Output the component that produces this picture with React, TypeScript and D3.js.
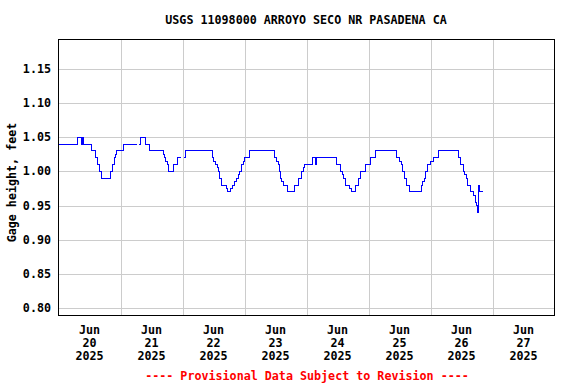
import React from 'react';
import * as d3 from 'd3';

// hours after Jun 20 2025 00:00, gage height (ft); null = gap in record
const hours = [
  0, 7.5, 8.75, 9.25, 9.5, 12.75, 14.5, 15.25, 16, 16.75, 20, 20.75, 21.5, 22, 22.5,
  25, 30.5, 30.6, 31.25, 31.75, 33.75, 35.25, 40.5, 41, 41.5, 42, 42.75, 44.5, 46.25,
  47.5, 47.6, 48.5, 49.25, 59.5, 60, 60.75, 61.5, 62, 62.5, 63, 65, 65.25, 66.5, 67.25,
  68.25, 69, 69.5, 70.25, 70.75, 71.5, 72, 74, 83.75, 84.25, 85, 85.5, 86, 86.5, 87.25,
  88.5, 91.5, 93, 94, 95, 95.25, 98.25, 99.5, 100, 107.5, 109, 109.75, 110.5, 111,
  112.75, 113.25, 115, 116, 117, 118.75, 120.75, 122.75, 131, 132, 132.75, 133.25, 134,
  134.75, 136, 140.5, 141, 141.75, 142.25, 143, 144, 145, 147.25, 155, 155.5, 156.75,
  157.25, 158, 158.5, 159.5, 160.75, 161.5, 161.75, 162.25, 162.75, 163, 164.5,
];
const heights: (number | null)[] = [
  1.04, 1.05, 1.04, 1.05, 1.04, 1.03, 1.02, 1.01, 1.0, 0.99, 1.0, 1.01, 1.02, 1.025, 1.03,
  1.04, 1.04, null, 1.04, 1.05, 1.04, 1.03, 1.025, 1.02, 1.015, 1.01, 1.0, 1.01, 1.02,
  1.02, null, 1.02, 1.03, 1.02, 1.015, 1.01, 1.005, 1.0, 0.99, 0.98, 0.975, 0.97, 0.975, 0.98,
  0.985, 0.99, 0.995, 1.0, 1.01, 1.015, 1.02, 1.03, 1.02, 1.015, 1.01, 1.0, 0.99, 0.985, 0.98,
  0.97, 0.98, 0.99, 1.0, 1.005, 1.01, 1.02, 1.01, 1.02, 1.01, 1.0, 0.995, 0.99, 0.98,
  0.975, 0.97, 0.98, 0.99, 1.0, 1.01, 1.02, 1.03, 1.02, 1.015, 1.01, 1.0, 0.99,
  0.98, 0.97, 0.98, 0.985, 0.99, 1.0, 1.01, 1.015, 1.02, 1.03, 1.02, 1.01, 1.0,
  0.995, 0.99, 0.98, 0.97, 0.965, 0.955, 0.95, 0.94, 0.98, 0.97, 0.97,
];
const yTicks = [0.8, 0.85, 0.9, 0.95, 1.0, 1.05, 1.1, 1.15];
const dayLabels = ['20', '21', '22', '23', '24', '25', '26', '27'];
const title = 'USGS 11098000 ARROYO SECO NR PASADENA CA';
const yTitle = 'Gage height, feet';
const note = '---- Provisional Data Subject to Revision ----';

const start = new Date(2025, 5, 20);
const font = '"DejaVu Sans Mono", monospace';

const App = () => {
  const left = 58.5, right = 554.5, top = 39.5, bottom = 315.5;

  const x = d3.scaleTime()
    .domain([start, d3.timeDay.offset(start, 8)])
    .range([left, right]);
  const y = d3.scaleLinear()
    .domain([0.789, 1.193])
    .range([bottom, top]);

  const data = hours.map((h, i) => ({ t: d3.timeMinute.offset(start, h * 60), v: heights[i] }));
  const line = d3.line<{ t: Date; v: number | null }>()
    .defined(d => d.v != null)
    .x(d => x(d.t))
    .y(d => y(d.v as number))
    .curve(d3.curveStepAfter);

  const days = d3.timeDay.range(start, d3.timeDay.offset(start, 8));

  return (
    <svg width={576} height={384} style={{ position: 'absolute', left: 0, top: 0, background: '#fff' }}>
      <rect x={0} y={0} width={576} height={384} fill="#fff" />
      <text x={306} y={24} textAnchor="middle" fontFamily={font} fontWeight="bold" fontSize={11.7}>
        {title}
      </text>
      {yTicks.map(t => (
        <g key={t}>
          <line x1={left} x2={right} y1={Math.round(y(t)) + 0.5} y2={Math.round(y(t)) + 0.5} stroke="#cccccc" />
          <text x={51} y={y(t) + 4} textAnchor="end" fontFamily={font} fontWeight="bold" fontSize={11.7}>
            {t.toFixed(2)}
          </text>
        </g>
      ))}
      {days.slice(1).map(d => (
        <line key={+d} x1={Math.round(x(d)) + 0.5} x2={Math.round(x(d)) + 0.5} y1={top} y2={bottom} stroke="#cccccc" />
      ))}
      <path d={line(data) ?? ''} fill="none" stroke="#0000ff" strokeWidth={1} shapeRendering="crispEdges" />
      <rect x={left} y={top} width={right - left} height={bottom - top} fill="none" stroke="#000" />
      {days.map((d, i) => {
        const cx = x(d3.timeHour.offset(d, 12));
        return (
          <text key={+d} x={cx} textAnchor="middle" fontFamily={font} fontWeight="bold" fontSize={11.7}>
            <tspan x={cx} y={334}>Jun</tspan>
            <tspan x={cx} y={347}>{dayLabels[i]}</tspan>
            <tspan x={cx} y={360}>2025</tspan>
          </text>
        );
      })}
      <text
        transform={`translate(16, ${(top + bottom) / 2 + 5}) rotate(-90)`}
        textAnchor="middle" fontFamily={font} fontWeight="bold" fontSize={11.7}
      >
        {yTitle}
      </text>
      <text x={307} y={380} textAnchor="middle" fontFamily={font} fontWeight="bold" fontSize={11.7} fill="#ff0000">
        {note}
      </text>
    </svg>
  );
};

export default App;
